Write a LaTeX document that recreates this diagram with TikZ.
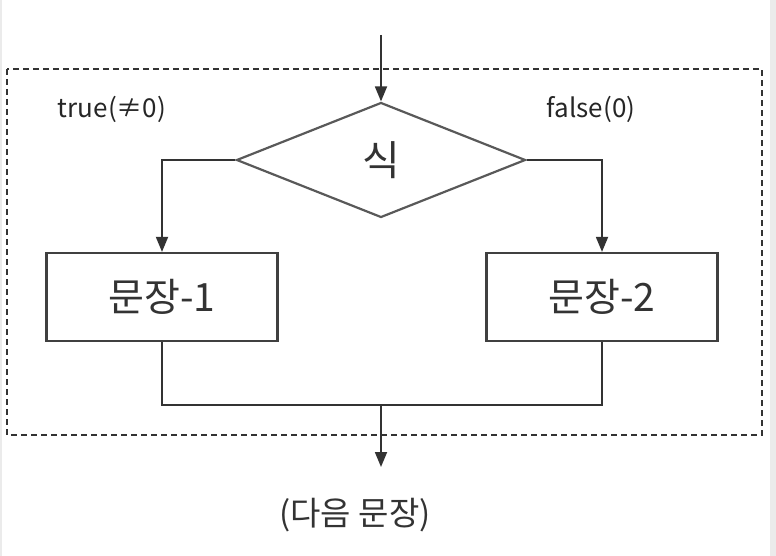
\documentclass[tikz,border=0pt]{standalone}
\usepackage{fontspec}
\setmainfont{Noto Sans CJK KR}
\usetikzlibrary{positioning,shapes.geometric,arrows.meta}

\begin{document}
\begin{tikzpicture}[x=1pt,y=-1pt,line width=1.8pt,color=black!80,
    >={Triangle[length=15pt,width=12pt]},
    cond/.style={diamond,draw=black!65,line width=2.2pt,minimum width=289pt,
      minimum height=115pt,inner sep=0pt,font=\fontsize{41}{44}\selectfont},
    stmt/.style={rectangle,draw=black!75,line width=2.2pt,minimum width=231pt,
      minimum height=88pt,inner sep=0pt,font=\fontsize{39}{42}\selectfont},
    lbl/.style={font=\fontsize{26}{30}\selectfont,text=black!85}]
    \useasboundingbox (0,0) rectangle (776,556);
    \fill[black!8] (0,0) rectangle (2,556);
    \fill[black!8] (770,0) rectangle (776,556);

    % dashed frame
    \draw[line width=1.5pt,dash pattern=on 6pt off 4pt] (7,69) rectangle (762,435);

    \coordinate (in) at (381,35);
    \node[cond] (expr) at (381,160) {식};
    \node[stmt] (s1) at (162,297) {문장-1};
    \node[stmt] (s2) at (602,297) {문장-2};
    \coordinate (join) at (381,405);
    \node (next) at (355,515) {\fontsize{33}{36}\selectfont (다음 문장)};

    \node[lbl] (t) at (112,109) {true(≠0)};
    \node[lbl] (f) at (591,109) {false(0)};

    \draw[->] (in) -- (expr.north);
    \draw[->] (expr.west) -| (s1.north);
    \draw[->] (expr.east) -| (s2.north);
    \draw (s1.south) |- (join) -| (s2.south);
    \draw[->] (join) -- (381,467) coordinate (out);
  \end{tikzpicture}
\end{document}
